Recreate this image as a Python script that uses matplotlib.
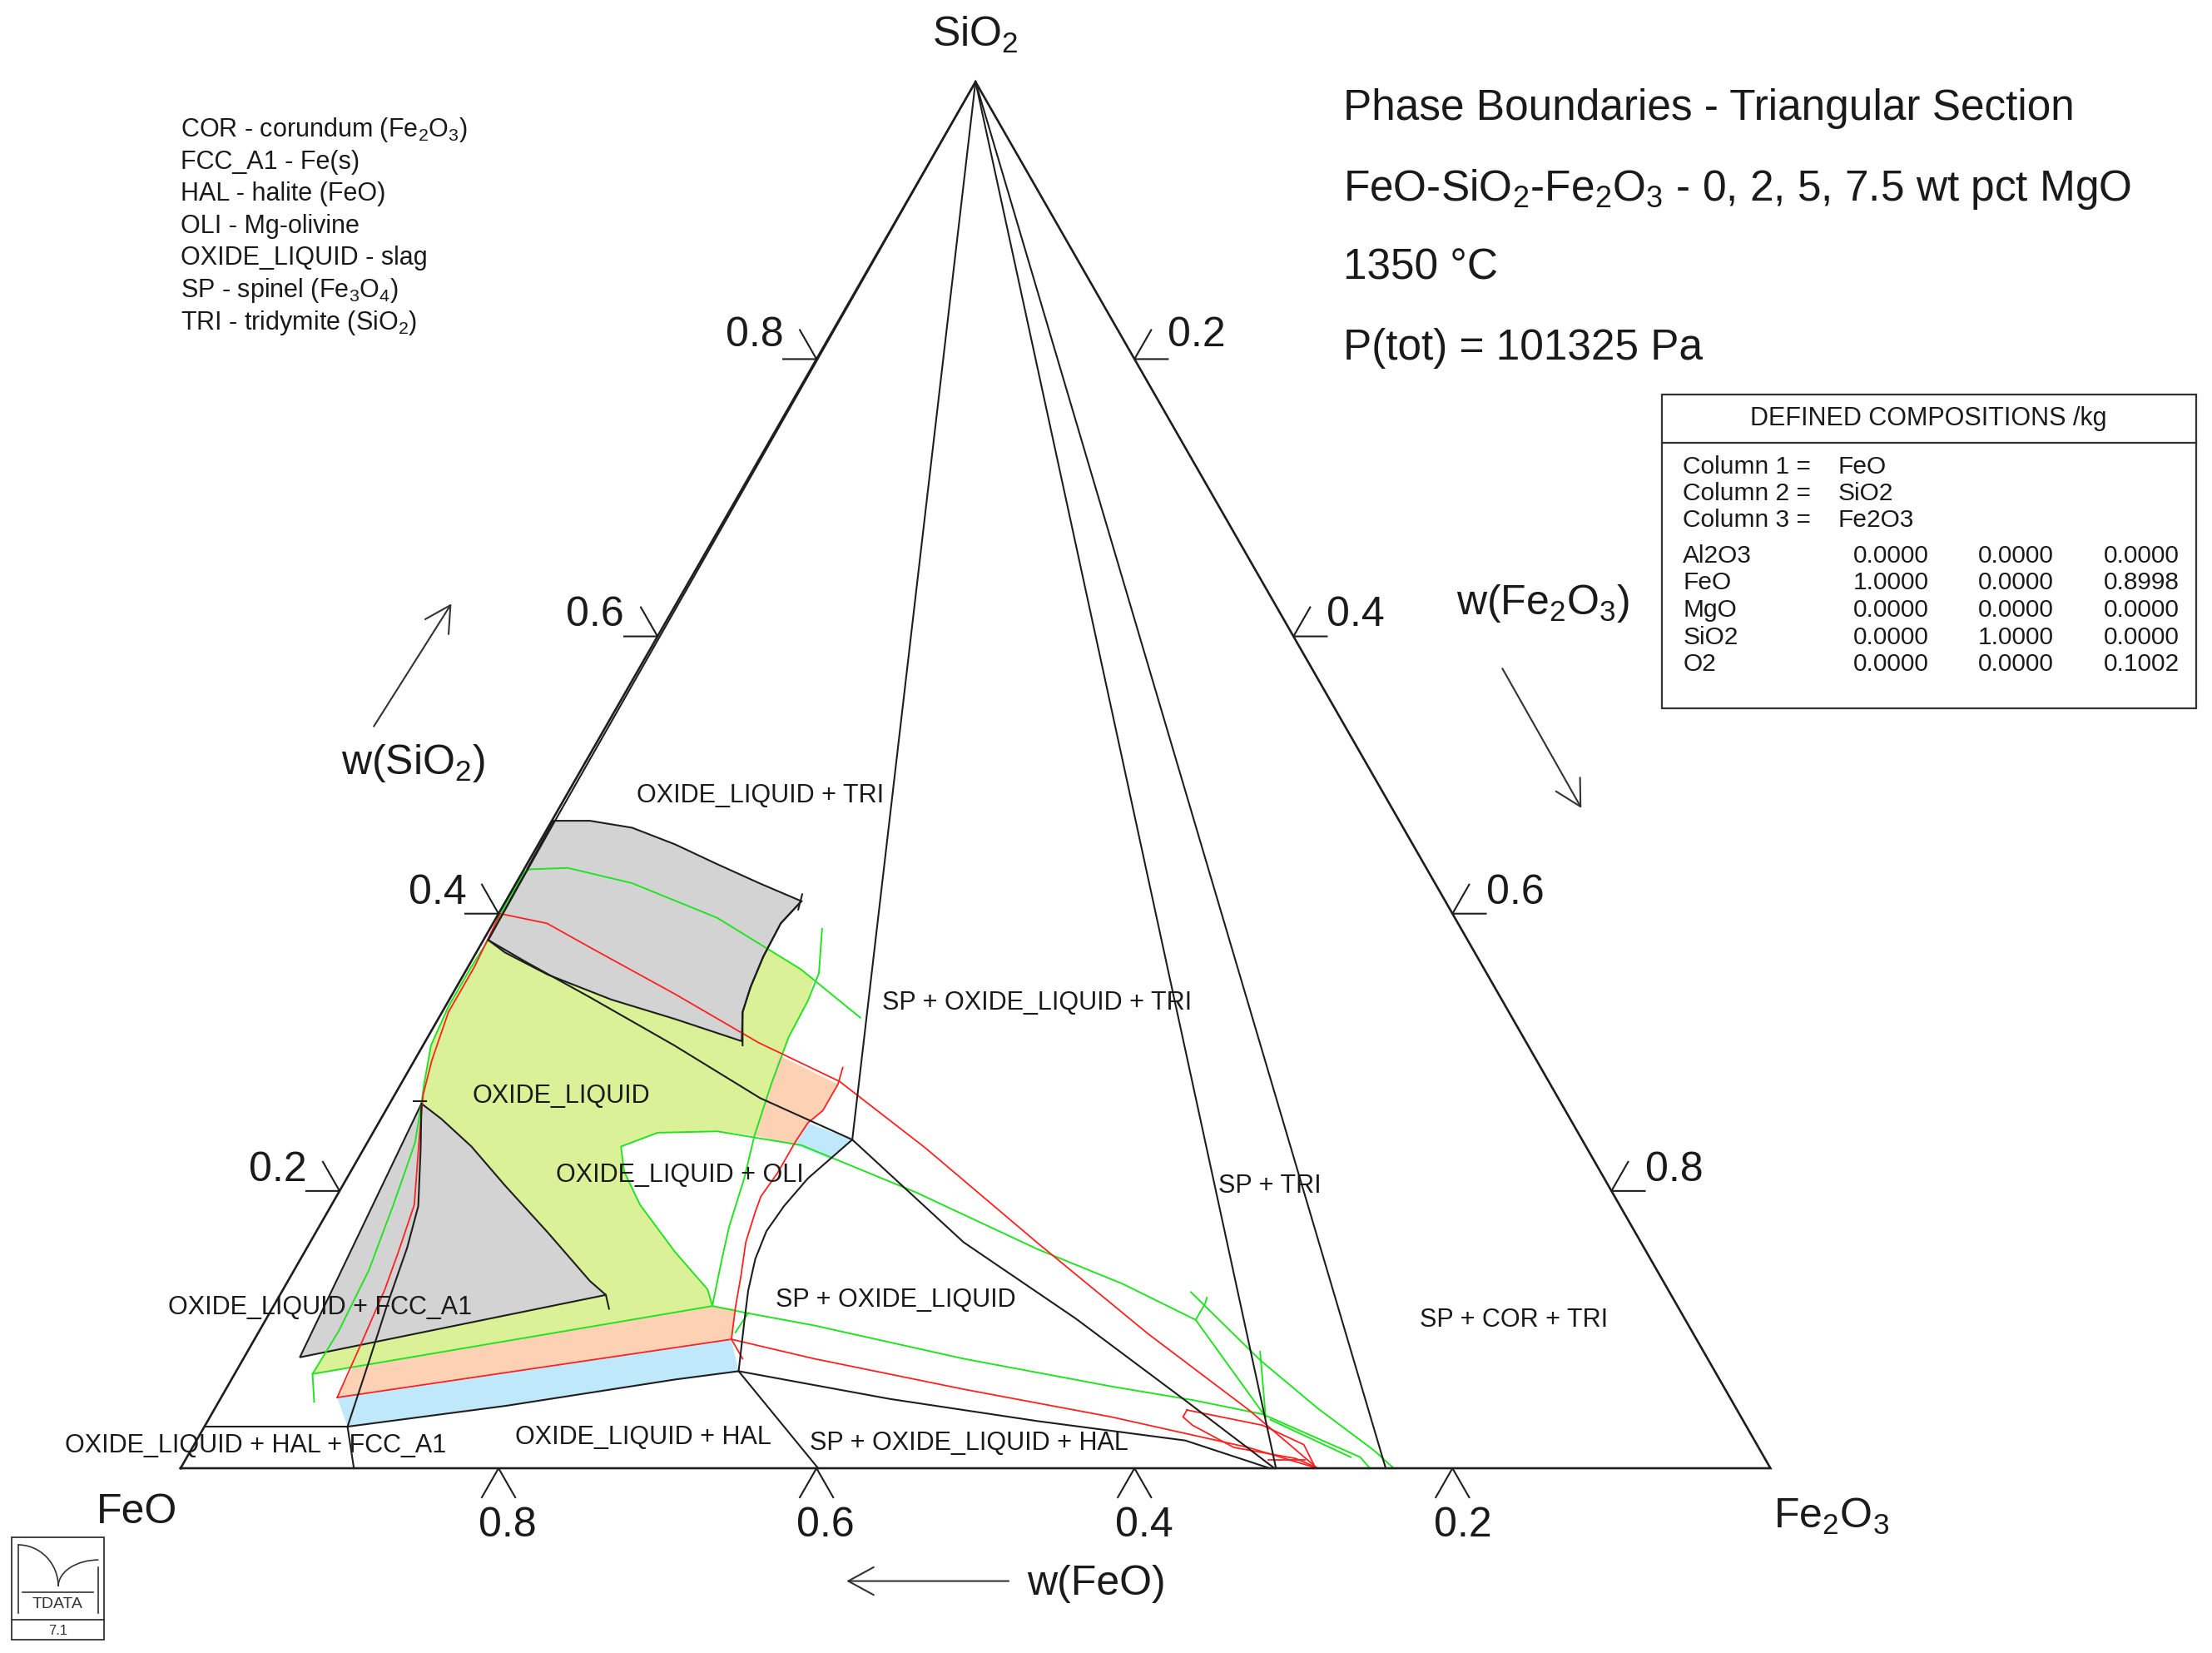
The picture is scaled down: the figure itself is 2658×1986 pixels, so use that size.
import numpy as np
import matplotlib
matplotlib.use('Agg')
import matplotlib.pyplot as plt
from matplotlib.patches import Rectangle, Arc

plt.rcParams['font.family'] = ['Liberation Sans', 'DejaVu Sans']
plt.rcParams['mathtext.fontset'] = 'custom'
plt.rcParams['mathtext.rm'] = 'Liberation Sans'
plt.rcParams['mathtext.it'] = 'Liberation Sans:italic'
plt.rcParams['mathtext.default'] = 'regular'

# ---------------- data: composition pairs (w(SiO2), w(Fe2O3)) ----------------
sp_tri_left = [(1.0, 0.0), (0.0, 0.689)]
sp_tri_right = [(1.0, 0.0), (0.0, 0.758)]
liq_tri_line = [(1.0, 0.0), (0.237, 0.304)]
edge_inner = [(1.0, 0.0), (0.467, 0.002), (0.381, 0.003)]

gray_tri = [(0.467, 0.001), (0.467, 0.024), (0.462, 0.053), (0.450, 0.086), (0.436, 0.119),
            (0.422, 0.153), (0.409, 0.186), (0.393, 0.181), (0.369, 0.182), (0.347, 0.185),
            (0.329, 0.189), (0.308, 0.199), (0.324, 0.149), (0.338, 0.102), (0.356, 0.053),
            (0.372, 0.018), (0.381, 0.003)]
gray_tri_right = [(0.409, 0.186), (0.393, 0.181), (0.369, 0.182), (0.347, 0.185),
                  (0.329, 0.189), (0.305, 0.201)]
gray_tri_tick = [(0.414, 0.184), (0.403, 0.187)]

gray_fcc = [(0.263, 0.020), (0.252, 0.038), (0.232, 0.067), (0.204, 0.102), (0.170, 0.146),
            (0.135, 0.190), (0.125, 0.205), (0.080, 0.035)]
gray_fcc_hook = [(0.125, 0.205), (0.115, 0.212)]
fcc_cross = [(0.265, 0.014), (0.265, 0.022)]

liquid = [(0.381, 0.003), (0.360, 0.002), (0.333, 0.002), (0.305, 0.005), (0.276, 0.015),
          (0.263, 0.020), (0.235, 0.030), (0.210, 0.035), (0.189, 0.039), (0.143, 0.047),
          (0.099, 0.050), (0.068, 0.049), (0.117, 0.276), (0.129, 0.267), (0.156, 0.233),
          (0.190, 0.194), (0.214, 0.172), (0.232, 0.161), (0.242, 0.179), (0.243, 0.216),
          (0.240, 0.241), (0.277, 0.233), (0.311, 0.227), (0.337, 0.226), (0.352, 0.222),
          (0.360, 0.210), (0.374, 0.183)]

salmon_low = [(0.073, 0.072), (0.081, 0.109), (0.097, 0.182), (0.112, 0.255), (0.117, 0.276),
              (0.115, 0.291), (0.093, 0.300), (0.051, 0.073)]
blue_low = [(0.051, 0.073), (0.093, 0.300), (0.070, 0.316), (0.064, 0.279), (0.045, 0.182),
            (0.030, 0.090)]
salmon_up = [(0.298, 0.227), (0.277, 0.275), (0.258, 0.275), (0.249, 0.270), (0.233, 0.270),
             (0.240, 0.241), (0.277, 0.233)]
blue_up = [(0.249, 0.270), (0.237, 0.304), (0.223, 0.297), (0.233, 0.270)]

blk_oli = [(0.381, 0.003), (0.365, 0.035), (0.340, 0.087), (0.305, 0.158), (0.267, 0.231),
           (0.237, 0.304), (0.163, 0.411), (0.108, 0.509), (0.048, 0.609), (0.0, 0.688)]
blk_spliq = [(0.237, 0.304), (0.223, 0.297), (0.209, 0.290), (0.189, 0.285), (0.171, 0.283),
             (0.151, 0.286), (0.128, 0.293), (0.105, 0.302), (0.070, 0.316)]
blk_hal = [(0.070, 0.316), (0.064, 0.279), (0.045, 0.182), (0.030, 0.090)]
blk_hal_sp = [(0.070, 0.316), (0.0, 0.401)]
blk_sp_hal = [(0.070, 0.316), (0.050, 0.421), (0.034, 0.522), (0.020, 0.622), (0.0, 0.685)]
blk_fcc = [(0.263, 0.020), (0.230, 0.036), (0.189, 0.055), (0.159, 0.063), (0.118, 0.071),
           (0.077, 0.080), (0.030, 0.090), (0.0, 0.109)]
blk_hal_fcc = [(0.030, 0.0), (0.030, 0.090)]

red_main = [(0.051, 0.073), (0.087, 0.069), (0.129, 0.064), (0.156, 0.059), (0.190, 0.052),
            (0.236, 0.032), (0.269, 0.018), (0.294, 0.011), (0.329, 0.004), (0.362, 0.004),
            (0.400, 0.001), (0.393, 0.034), (0.376, 0.069), (0.342, 0.140), (0.307, 0.210),
            (0.279, 0.275), (0.231, 0.353), (0.163, 0.457), (0.097, 0.560), (0.042, 0.651),
            (0.0, 0.715)]
red_oli = [(0.289, 0.272), (0.277, 0.275), (0.258, 0.275), (0.249, 0.270), (0.236, 0.269),
           (0.213, 0.269), (0.196, 0.267), (0.185, 0.269), (0.163, 0.274), (0.139, 0.283),
           (0.116, 0.291), (0.093, 0.300), (0.079, 0.314)]
red_low = [(0.051, 0.073), (0.093, 0.300), (0.079, 0.359), (0.057, 0.464), (0.037, 0.567),
           (0.015, 0.664), (0.0, 0.715)]
red_loop = [(0.042, 0.612), (0.031, 0.665), (0.017, 0.698), (0.001, 0.713), (0.007, 0.698),
            (0.015, 0.655), (0.031, 0.621), (0.037, 0.612), (0.042, 0.612)]
red_bar = [(0.006, 0.681), (0.006, 0.704)]

green_main = [(0.048, 0.060), (0.068, 0.049), (0.099, 0.050), (0.143, 0.047), (0.189, 0.039),
              (0.210, 0.035), (0.235, 0.030), (0.263, 0.020), (0.276, 0.015), (0.305, 0.005),
              (0.333, 0.002), (0.360, 0.002), (0.381, 0.003), (0.408, 0.001), (0.431, 0.001),
              (0.432, 0.004), (0.433, 0.027), (0.422, 0.073), (0.397, 0.139), (0.360, 0.210),
              (0.325, 0.265)]
green_low = [(0.068, 0.049), (0.117, 0.276), (0.112, 0.300), (0.103, 0.347), (0.079, 0.453),
             (0.059, 0.556), (0.049, 0.613), (0.039, 0.661), (0.008, 0.738), (0.0, 0.748)]
green_vert = [(0.389, 0.209), (0.357, 0.223), (0.337, 0.226), (0.311, 0.227), (0.277, 0.233),
              (0.240, 0.241), (0.209, 0.250), (0.174, 0.258), (0.151, 0.265), (0.123, 0.274),
              (0.117, 0.276)]
green_oli = [(0.117, 0.276), (0.129, 0.267), (0.156, 0.233), (0.190, 0.194), (0.214, 0.172),
             (0.232, 0.161), (0.242, 0.179), (0.243, 0.216), (0.238, 0.245), (0.233, 0.274),
             (0.199, 0.363), (0.158, 0.460), (0.133, 0.526), (0.107, 0.585), (0.037, 0.664)]
green_hook = [(0.107, 0.585), (0.119, 0.585), (0.123, 0.584)]
green_c = [(0.127, 0.572), (0.078, 0.640), (0.043, 0.694), (0.013, 0.744), (0.0, 0.763)]
green_d = [(0.084, 0.637), (0.037, 0.664)]
green_e2 = [(0.035, 0.668), (0.008, 0.732)]
green_short = [(0.098, 0.300), (0.112, 0.301)]

tick_values = [0.2, 0.4, 0.6, 0.8]
base_labels = ['0.8', '0.6', '0.4', '0.2']      # w(FeO) at w(Fe2O3)=0.2..0.8
left_labels = ['0.2', '0.4', '0.6', '0.8']      # w(SiO2)
right_labels = ['0.8', '0.6', '0.4', '0.2']     # w(Fe2O3) at w(SiO2)=0.2..0.8

region_labels = ['OXIDE_LIQUID + TRI', 'SP + OXIDE_LIQUID + TRI', 'OXIDE_LIQUID',
                 'OXIDE_LIQUID + OLI', 'SP + TRI', 'SP + OXIDE_LIQUID',
                 'OXIDE_LIQUID + FCC_A1', 'SP + COR + TRI', 'OXIDE_LIQUID + HAL + FCC_A1',
                 'OXIDE_LIQUID + HAL', 'SP + OXIDE_LIQUID + HAL']
region_label_pos = [(539, 564), (735, 711), (398, 777), (482, 833), (900, 841), (635, 922),
                    (227, 927), (1073, 936), (181, 1025), (456, 1019), (687, 1023)]

legend_lines = ['COR - corundum (Fe$_2$O$_3$)', 'FCC_A1 - Fe(s)', 'HAL - halite (FeO)',
                'OLI - Mg-olivine', 'OXIDE_LIQUID - slag', 'SP - spinel (Fe$_3$O$_4$)',
                'TRI - tridymite (SiO$_2$)']
title_lines = ['Phase Boundaries - Triangular Section',
               'FeO-SiO$_2$-Fe$_2$O$_3$ - 0, 2, 5, 7.5 wt pct MgO',
               '1350 \u00b0C', 'P(tot) = 101325 Pa']

table_columns = [('Column 1 =', 'FeO'), ('Column 2 =', 'SiO2'), ('Column 3 =', 'Fe2O3')]
table_rows = ['Al2O3', 'FeO', 'MgO', 'SiO2', 'O2']
table_values = [['0.0000', '0.0000', '0.0000'],
                ['1.0000', '0.0000', '0.8998'],
                ['0.0000', '0.0000', '0.0000'],
                ['0.0000', '1.0000', '0.0000'],
                ['0.0000', '0.0000', '0.1002']]

# ---------------- styles ----------------
GRAY = '#d3d3d3'
YELLOW = '#dbf197'
SALMON = '#fdd2b4'
BLUE = '#bfe8fb'
GREEN = '#22e322'
RED = '#ff2020'
BLACK = '#1e1e1e'
TXT = '#1a1a1a'


def tern(pts):
    a = np.asarray(pts, dtype=float)
    s, f = a[:, 0], a[:, 1]
    return f + s / 2.0, s


fig = plt.figure(figsize=(26.58, 19.86), dpi=100)
ax = fig.add_axes([0, 0, 1, 1])
ax.set_xlim(-128 / 1127, 1440 / 1127)
ax.set_ylim(-131 / 983, 1041 / 983)
ax.axis('off')

# fills
for poly, col in [(liquid, YELLOW), (salmon_low, SALMON), (blue_low, BLUE),
                  (salmon_up, SALMON), (blue_up, BLUE)]:
    x, y = tern(poly)
    ax.fill(x, y, color=col, lw=0, zorder=1)
for poly in [gray_tri, gray_fcc]:
    x, y = tern(poly)
    ax.fill(x, y, facecolor=GRAY, edgecolor=BLACK, lw=1.5, zorder=2)

# coloured boundaries
for line in [green_main, green_low, green_vert, green_oli, green_hook, green_c,
             green_d, green_e2, green_short]:
    x, y = tern(line)
    ax.plot(x, y, color=GREEN, lw=1.4, zorder=3)
for line in [red_main, red_oli, red_low, red_loop, red_bar]:
    x, y = tern(line)
    ax.plot(x, y, color=RED, lw=1.3, zorder=3)

# black boundaries
for line in [sp_tri_left, sp_tri_right, liq_tri_line, edge_inner, gray_tri_right,
             gray_tri_tick, gray_fcc_hook, fcc_cross, blk_oli, blk_spliq, blk_hal,
             blk_hal_sp, blk_sp_hal, blk_fcc, blk_hal_fcc]:
    x, y = tern(line)
    ax.plot(x, y, color=BLACK, lw=1.5, zorder=4)

# triangle frame
frame = [(0.0, 0.0), (0.0, 1.0), (1.0, 0.0), (0.0, 0.0)]
x, y = tern(frame)
ax.plot(x, y, color=BLACK, lw=1.9, zorder=5, solid_joinstyle='miter')

# axis ticks
L = 0.021
for v in tick_values:
    for seg in ([(-L, v), (0.0, v), (-L, v + L)],                 # base  (Λ below)
                [(v + L, -L), (v, 0.0), (v, -L)],                 # left edge
                [(v + L, 1 - v), (v, 1 - v), (v, 1 - v + L)]):    # right edge
        x, y = tern(seg)
        ax.plot(x, y, color=BLACK, lw=1.5, zorder=5)

# ---------------- overlay for texts (reference layout coordinates) ----------------
ov = fig.add_axes([0, 0, 1, 1], zorder=10)
ov.set_xlim(0, 1568)
ov.set_ylim(1172, 0)
ov.axis('off')
ov.patch.set_visible(False)

for lab, (px, py) in zip(left_labels, [(197, 830), (310, 633), (422, 436), (535, 238)]):
    ov.text(px, py, lab, fontsize=36, color=TXT, ha='center', va='center')
for lab, (px, py) in zip(right_labels[::-1], [(848, 238), (961, 436), (1074, 633), (1187, 830)]):
    ov.text(px, py, lab, fontsize=36, color=TXT, ha='center', va='center')
for lab, (px, py) in zip(base_labels, [(360, 1082), (585, 1082), (811, 1082), (1037, 1082)]):
    ov.text(px, py, lab, fontsize=36, color=TXT, ha='center', va='center')

ov.text(691, 25, 'SiO$_2$', fontsize=36, color=TXT, ha='center', va='center')
ov.text(97, 1072, 'FeO', fontsize=36, color=TXT, ha='center', va='center')
ov.text(1298, 1075, 'Fe$_2$O$_3$', fontsize=36, color=TXT, ha='center', va='center')

ov.text(293, 541, 'w(SiO$_2$)', fontsize=36, color=TXT, ha='center', va='center')
ov.text(1094, 428, 'w(Fe$_2$O$_3$)', fontsize=36, color=TXT, ha='center', va='center')
ov.text(777, 1123, 'w(FeO)', fontsize=36, color=TXT, ha='center', va='center')
arrow_style = dict(arrowstyle='->,head_length=1.1,head_width=0.6', lw=1.5,
                   color='#333333', mutation_scale=20, shrinkA=0, shrinkB=0)
ov.annotate('', xy=(320, 428), xytext=(265, 515), arrowprops=arrow_style)
ov.annotate('', xy=(1121, 573), xytext=(1065, 474), arrowprops=arrow_style)
ov.annotate('', xy=(600, 1121), xytext=(715, 1121), arrowprops=arrow_style)

for lab, (px, py) in zip(region_labels, region_label_pos):
    ov.text(px, py, lab, fontsize=22, color=TXT, ha='center', va='center', zorder=12)

for i, line in enumerate(legend_lines):
    ov.text(128, 92 + i * 22.8, line, fontsize=22, color=TXT, ha='left', va='center')

for line, py in zip(title_lines, [77, 134, 190, 247]):
    ov.text(952, py, line, fontsize=37, color=TXT, ha='left', va='center')

# composition table
ov.add_patch(Rectangle((1178, 280), 379, 222, fill=False, lw=1.6, edgecolor='#333333'))
ov.plot([1178, 1557], [314, 314], color='#333333', lw=1.6)
ov.text(1367, 297, 'DEFINED COMPOSITIONS /kg', fontsize=22, color=TXT, ha='center', va='center')
for i, (c, comp) in enumerate(table_columns):
    ov.text(1193, 331 + 19 * i, c, fontsize=21.5, color=TXT, ha='left', va='center')
    ov.text(1303, 331 + 19 * i, comp, fontsize=21.5, color=TXT, ha='left', va='center')
for i, (name, vals) in enumerate(zip(table_rows, table_values)):
    py = 394 + 19.3 * i
    ov.text(1193, py, name, fontsize=21.5, color=TXT, ha='left', va='center')
    for xr, v in zip([1367, 1456, 1545], vals):
        ov.text(xr, py, v, fontsize=21.5, color=TXT, ha='right', va='center')

# logo
lg = fig.add_axes([7.8 / 1568, 1 - 1163.1 / 1172, 66.5 / 1568, 73.7 / 1172], zorder=10)
lg.set_xlim(0, 66.5)
lg.set_ylim(0, 73.7)
lg.axis('off')
lg.patch.set_visible(False)
lg.add_patch(Rectangle((0.3, 0.3), 65.9, 73.1, fill=False, lw=1.3, edgecolor='#333333'))
lg.plot([0.3, 66.2], [14.7, 14.7], color='#333333', lw=1.3)
lg.plot([5.0, 5.0], [19.7, 67.8], color='#333333', lw=1.2)
lg.plot([62.0, 62.0], [19.7, 52.0], color='#333333', lw=1.2)
lg.plot([8.0, 58.1], [34.4, 34.4], color='#333333', lw=1.2)
lg.add_patch(Arc((5.0, 38.3), 57, 59, theta1=0, theta2=90, lw=1.2, color='#333333'))
lg.add_patch(Arc((62.0, 38.3), 57, 37.6, theta1=90, theta2=180, lw=1.2, color='#333333'))
lg.text(33.0, 25.6, 'TDATA', fontsize=14, color='#333333', ha='center', va='center')
lg.text(33.0, 7.0, '7.1', fontsize=12, color='#333333', ha='center', va='center')

fig.savefig('out.png', dpi=100, facecolor='white')
